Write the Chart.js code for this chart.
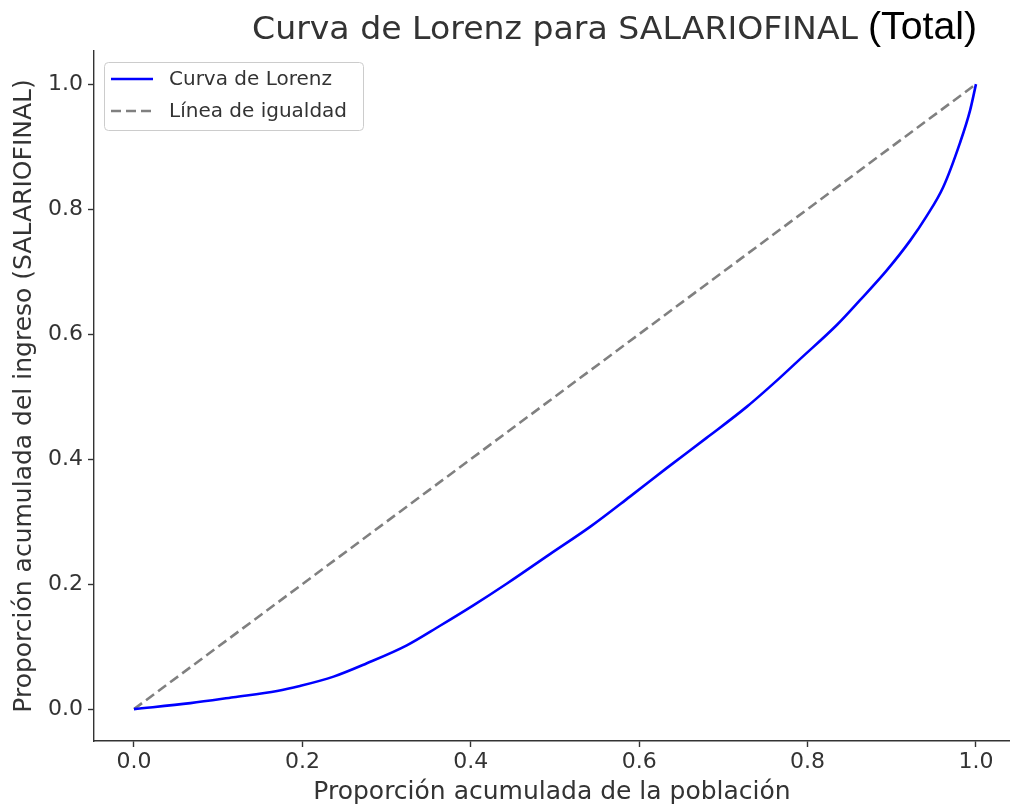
<!DOCTYPE html>
<html>
<head>
<meta charset="utf-8">
<script src="https://cdn.jsdelivr.net/npm/chart.js@4/dist/chart.umd.min.js"></script>
<style>
  html, body { margin: 0; padding: 0; background: #fff; overflow: hidden; }
  #wrap { width: 1010px; height: 807px; }
</style>
</head>
<body>
<div id="wrap"><canvas id="lorenzChart" width="1010" height="807"></canvas></div>
<script>
// Cumulative population share (x) and cumulative income share (y)
const popShare = [0, 0.067, 0.118, 0.17, 0.197, 0.237, 0.276, 0.324, 0.363, 0.403, 0.443, 0.494, 0.542, 0.589, 0.633, 0.68, 0.728, 0.767, 0.791, 0.835, 0.862, 0.894, 0.922, 0.941, 0.961, 0.981, 0.993, 1.0];
const incomeShare = [0, 0.0096, 0.019, 0.029, 0.037, 0.052, 0.073, 0.102, 0.133, 0.166, 0.201, 0.248, 0.292, 0.340, 0.386, 0.434, 0.484, 0.530, 0.560, 0.615, 0.654, 0.702, 0.75, 0.788, 0.835, 0.906, 0.958, 1.0];
const equalityX = [0, 1];
const equalityY = [0, 1];
const tickValues = [0, 0.2, 0.4, 0.6, 0.8, 1.0];

const seriesLabels = ['Curva de Lorenz', 'Línea de igualdad'];
const titleMain = 'Curva de Lorenz para SALARIOFINAL';
const titleExtra = '(Total)';
const xTitle = 'Proporción acumulada de la población';
const yTitle = 'Proporción acumulada del ingreso (SALARIOFINAL)';

const FONT = '"DejaVu Sans", sans-serif';
const INK = '#333333';

function toPoints(xs, ys) {
    return xs.map((x, i) => ({ x: x, y: ys[i] }));
}

// Title: matplotlib part + the narrower "(Total)" appended afterwards
const titlePlugin = {
    id: 'titlePlugin',
    afterDraw(chart) {
        const ctx = chart.ctx;
        ctx.save();
        ctx.textBaseline = 'alphabetic';
        ctx.textAlign = 'left';
        ctx.font = '32px ' + FONT;
        ctx.fillStyle = INK;
        const w = ctx.measureText(titleMain).width;
        ctx.save();
        ctx.translate(252, 39);
        ctx.scale(606 / w, 1);
        ctx.fillText(titleMain, 0, 0);
        ctx.restore();
        ctx.font = '38px "Liberation Sans Narrow", "Liberation Sans", sans-serif';
        ctx.fillStyle = '#000';
        const w2 = ctx.measureText(titleExtra).width;
        ctx.save();
        ctx.translate(868, 39);
        ctx.scale(109 / w2, 1);
        ctx.fillText(titleExtra, 0, 0);
        ctx.restore();
        ctx.restore();
    }
};

// Legend box in the upper-left corner of the plot
const legendPlugin = {
    id: 'legendPlugin',
    afterDraw(chart) {
        const ctx = chart.ctx;
        ctx.save();
        ctx.beginPath();
        ctx.roundRect(104.5, 62.5, 259, 68, 4);
        ctx.fillStyle = 'rgba(255,255,255,0.8)';
        ctx.fill();
        ctx.strokeStyle = '#cccccc';
        ctx.lineWidth = 1;
        ctx.stroke();
        chart.data.datasets.forEach((ds, i) => {
            const y = 79 + i * 32;
            ctx.beginPath();
            ctx.setLineDash(ds.borderDash || []);
            ctx.strokeStyle = ds.borderColor;
            ctx.lineWidth = ds.borderWidth;
            ctx.moveTo(111, y);
            ctx.lineTo(153, y);
            ctx.stroke();
            ctx.setLineDash([]);
            ctx.fillStyle = INK;
            ctx.font = '20px ' + FONT;
            ctx.textBaseline = 'middle';
            ctx.fillText(ds.label, 169, y + 1);
        });
        ctx.restore();
    }
};

new Chart(document.getElementById('lorenzChart'), {
    type: 'line',
    data: {
        datasets: [
            {
                label: seriesLabels[0],
                data: toPoints(popShare, incomeShare),
                borderColor: '#0000ff',
                borderWidth: 2.6,
                pointRadius: 0,
                cubicInterpolationMode: 'monotone',
                fill: false
            },
            {
                label: seriesLabels[1],
                data: toPoints(equalityX, equalityY),
                borderColor: '#808080',
                borderWidth: 2.6,
                borderDash: [10, 5],
                pointRadius: 0,
                fill: false
            }
        ]
    },
    options: {
        responsive: false,
        animation: false,
        layout: { padding: { top: 51, left: 0, right: 0, bottom: 0 } },
        plugins: {
            legend: { display: false },
            title: { display: false },
            tooltip: { enabled: false }
        },
        scales: {
            x: {
                type: 'linear',
                min: -0.0475,
                max: 1.0404,
                afterBuildTicks(scale) { scale.ticks = tickValues.map(v => ({ value: v })); },
                afterFit(scale) { scale.height = 66; },
                border: { display: true, color: INK, width: 1.4 },
                grid: { drawOnChartArea: false, drawTicks: true, tickLength: 6, color: INK, tickWidth: 1.4 },
                ticks: {
                    color: INK,
                    font: { family: FONT, size: 22 },
                    padding: 2,
                    maxRotation: 0,
                    callback: v => v.toFixed(1)
                },
                title: {
                    display: true,
                    text: xTitle,
                    color: INK,
                    font: { family: FONT, size: 25 },
                    padding: { top: 0, bottom: 0 }
                }
            },
            y: {
                type: 'linear',
                min: -0.051,
                max: 1.053,
                afterBuildTicks(scale) { scale.ticks = tickValues.map(v => ({ value: v })); },
                afterFit(scale) { scale.width = 94; },
                border: { display: true, color: INK, width: 1.4 },
                grid: { drawOnChartArea: false, drawTicks: true, tickLength: 6, color: INK, tickWidth: 1.4 },
                ticks: {
                    color: INK,
                    font: { family: FONT, size: 22 },
                    padding: 5,
                    callback: v => v.toFixed(1)
                },
                title: {
                    display: true,
                    text: yTitle,
                    color: INK,
                    font: { family: FONT, size: 25 },
                    padding: { top: 9, bottom: 0 }
                }
            }
        }
    },
    plugins: [titlePlugin, legendPlugin]
});
</script>
</body>
</html>
